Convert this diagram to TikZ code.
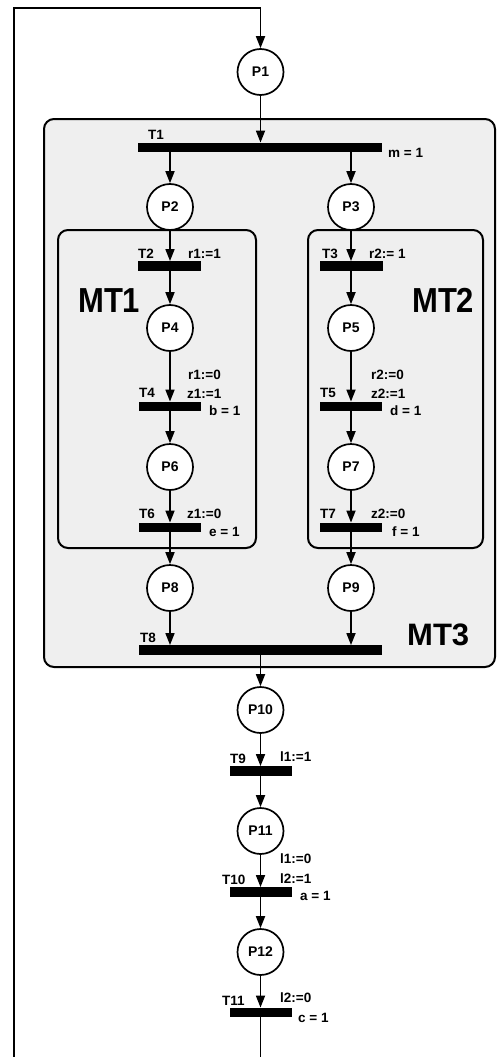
\documentclass[tikz,border=0pt]{standalone}
\usepackage{fontspec}
\setmainfont{Liberation Sans}
\usetikzlibrary{arrows.meta}
\definecolor{boxgray}{HTML}{EFEFEF}
\tikzset{
  place/.style={circle, draw, fill=white, line width=1.7pt, minimum size=46pt, inner sep=0pt, font=\fontsize{14}{15}\selectfont\bfseries},
  trans/.style={rectangle, fill=black, inner sep=0pt, minimum height=9.5pt},
  lbl/.style={anchor=base west, inner sep=0pt, font=\fontsize{13.5}{14}\selectfont\bfseries},
  big/.style={anchor=base west, inner sep=0pt, font=\fontsize{31}{32}\selectfont\bfseries},
  arc/.style={line width=1.7pt, -{Triangle[length=12pt,width=9pt]}},
  plain/.style={line width=1.7pt},
  region/.style={draw, line width=2pt, rounded corners=10pt},
}
\begin{document}
\begin{tikzpicture}[x=1pt,y=-1pt]
\useasboundingbox (0,0) rectangle (497,1057);
% regions
\draw[region, fill=boxgray] (44,119) rectangle (495,667);
\draw[region, fill=boxgray] (58,230) rectangle (256,548);
\draw[region, fill=boxgray] (308,230) rectangle (483,548);
% places
\node[place] (P1) at (260.5,72) {P1};
\node[place] (P2) at (170,207) {P2};
\node[place] (P3) at (351,207) {P3};
\node[place] (P4) at (170,328) {P4};
\node[place] (P5) at (351,328) {P5};
\node[place] (P6) at (170,467) {P6};
\node[place] (P7) at (351,467) {P7};
\node[place] (P8) at (170,588) {P8};
\node[place] (P9) at (351,588) {P9};
\node[place] (P10) at (260.5,710) {P10};
\node[place] (P11) at (260.5,831) {P11};
\node[place] (P12) at (260.5,952) {P12};
% transitions
\node[trans, minimum width=244pt] (T1) at (260,147.5) {};
\node[trans, minimum width=63pt] (T2) at (169.5,266) {};
\node[trans, minimum width=63pt] (T3) at (351.5,266) {};
\node[trans, minimum width=62pt] (T4) at (170,406.5) {};
\node[trans, minimum width=62pt] (T5) at (351,406.5) {};
\node[trans, minimum width=62pt] (T6) at (170,527.5) {};
\node[trans, minimum width=62pt] (T7) at (351,527.5) {};
\node[trans, minimum width=243pt] (T8) at (260.5,650) {};
\node[trans, minimum width=62pt] (T9) at (261,771) {};
\node[trans, minimum width=62pt] (T10) at (261,892) {};
\node[trans, minimum width=62pt] (T11) at (261,1012.5) {};
% loop coordinates
\coordinate (top) at (260.5,8);
\coordinate (topleft) at (14,8);
\coordinate (botleft) at (14,1057);
\coordinate (botend) at (260.5,1057);
% connectors
\draw[arc] (botleft) -- (topleft) -- (top) -- (P1.north);
\draw[arc] (P1.south) -- (P1.south |- T1.north);
\draw[arc] (T1.south -| P2) -- (P2.north);
\draw[arc] (T1.south -| P3) -- (P3.north);
\draw[arc] (P2.south) -- (P2.south |- T2.north);
\draw[arc] (P3.south) -- (P3.south |- T3.north);
\draw[arc] (T2.south -| P4) -- (P4.north);
\draw[arc] (T3.south -| P5) -- (P5.north);
\draw[arc] (P4.south) -- (P4.south |- T4.north);
\draw[arc] (P5.south) -- (P5.south |- T5.north);
\draw[arc] (T4.south -| P6) -- (P6.north);
\draw[arc] (T5.south -| P7) -- (P7.north);
\draw[arc] (P6.south) -- (P6.south |- T6.north);
\draw[arc] (P7.south) -- (P7.south |- T7.north);
\draw[arc] (T6.south -| P8) -- (P8.north);
\draw[arc] (T7.south -| P9) -- (P9.north);
\draw[arc] (P8.south) -- (P8.south |- T8.north);
\draw[arc] (P9.south) -- (P9.south |- T8.north);
\draw[arc] (T8.south -| P10) -- (P10.north);
\draw[arc] (P10.south) -- (P10.south |- T9.north);
\draw[arc] (T9.south -| P11) -- (P11.north);
\draw[arc] (P11.south) -- (P11.south |- T10.north);
\draw[arc] (T10.south -| P12) -- (P12.north);
\draw[arc] (P12.south) -- (P12.south |- T11.north);
\draw[plain] (T11.south -| botend) -- (botend);
% labels
\node[lbl] (lT1) at (148,139) {T1};
\node[lbl] (lm) at (388,157) {m = 1};
\node[lbl] (lT2) at (138,258) {T2};
\node[lbl] (lr1a) at (188,258) {r1:=1};
\node[lbl] (lT3) at (322,258) {T3};
\node[lbl] (lr2a) at (369,258) {r2:= 1};
\node[big] (MT1) at (78,312) {\scalebox{1}[1.12]{MT1}};
\node[big] (MT2) at (412,312) {\scalebox{1}[1.12]{MT2}};
\node[lbl] (lr1b) at (188,379) {r1:=0};
\node[lbl] (lz1a) at (187,398) {z1:=1};
\node[lbl] (lT4) at (139,397) {T4};
\node[lbl] (lb) at (209,415) {b = 1};
\node[lbl] (lr2b) at (371,379) {r2:=0};
\node[lbl] (lz2a) at (371,398) {z2:=1};
\node[lbl] (lT5) at (320,397) {T5};
\node[lbl] (ld) at (390,415) {d = 1};
\node[lbl] (lT6) at (139,518) {T6};
\node[lbl] (lz1b) at (187,518) {z1:=0};
\node[lbl] (le) at (209,536) {e = 1};
\node[lbl] (lT7) at (320,518) {T7};
\node[lbl] (lz2b) at (371,518) {z2:=0};
\node[lbl] (lf) at (392,536) {f = 1};
\node[lbl] (lT8) at (140,642) {T8};
\node[big] (MT3) at (407,645) {MT3};
\node[lbl] (lT9) at (230,763) {T9};
\node[lbl] (ll1a) at (280,761) {l1:=1};
\node[lbl] (ll1b) at (280,863) {l1:=0};
\node[lbl] (lT10) at (222,884) {T10};
\node[lbl] (ll2a) at (280,883) {l2:=1};
\node[lbl] (la) at (300,900) {a = 1};
\node[lbl] (lT11) at (222,1005) {T11};
\node[lbl] (ll2b) at (280,1002) {l2:=0};
\node[lbl] (lc) at (298,1022) {c = 1};
\end{tikzpicture}
\end{document}
